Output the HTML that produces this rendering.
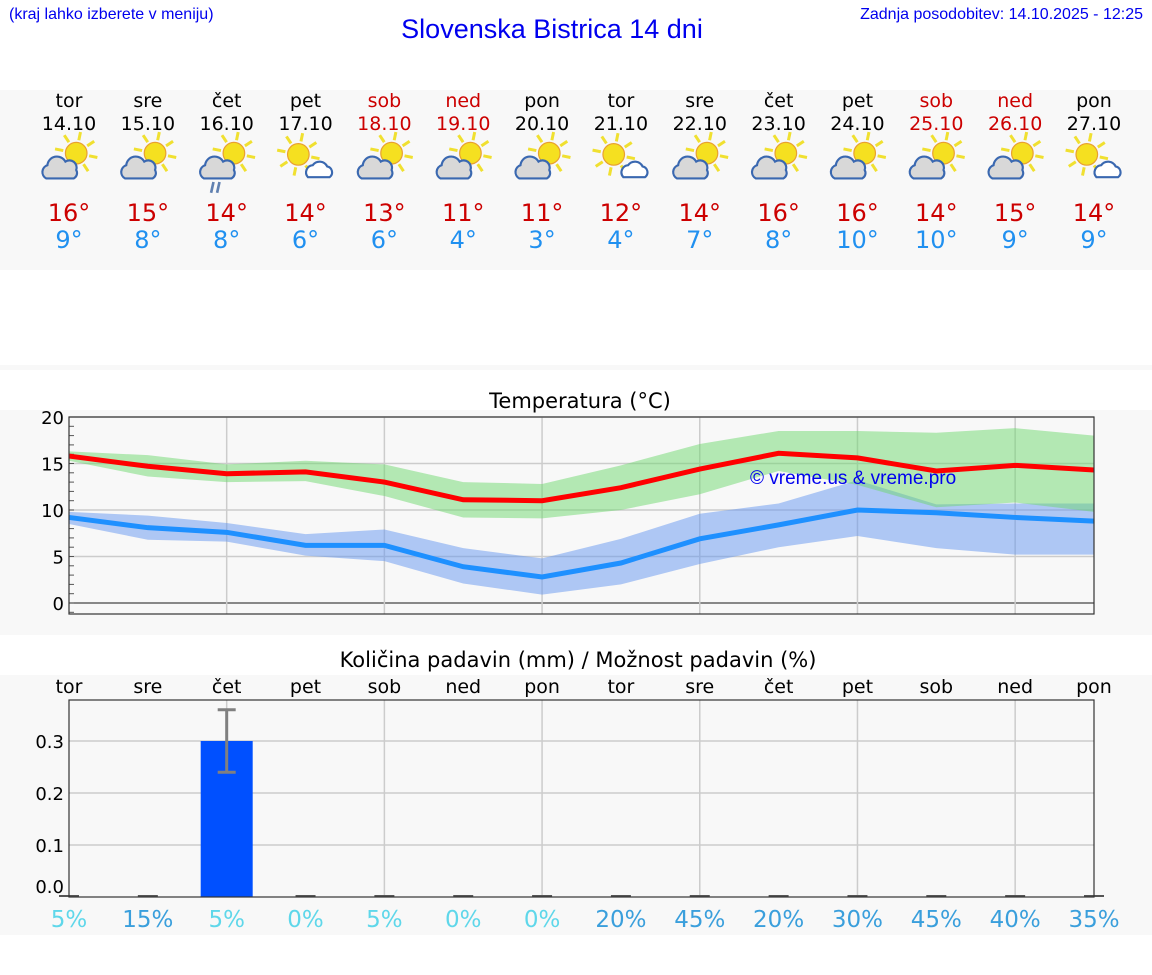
<!DOCTYPE html>
<html><head><meta charset="utf-8"><style>
body{margin:0;width:1152px;height:975px;background:#fff;font-family:"DejaVu Sans","Liberation Sans",sans-serif;position:relative;overflow:hidden}
.abs{position:absolute}
</style></head><body>
<div class="abs" style="left:9px;top:6px;font-size:16px;color:#0000ee;font-family:'Liberation Sans',sans-serif">(kraj lahko izberete v meniju)</div>
<div class="abs" style="left:0;width:1104px;top:14px;text-align:center;font-size:27px;color:#0000ee;font-family:'Liberation Sans',sans-serif">Slovenska Bistrica 14 dni</div>
<div class="abs" style="right:9px;top:6px;font-size:16px;color:#0000ee;font-family:'Liberation Sans',sans-serif">Zadnja posodobitev: 14.10.2025 - 12:25</div>
<div class="abs" style="left:0;top:90px;width:1152px;height:180px;background:#f8f8f8"></div>
<div class="abs" style="left:0;top:365px;width:1152px;height:5px;background:#f8f8f8"></div>
<div class="abs" style="left:0;top:410px;width:1152px;height:225px;background:#f8f8f8"></div>
<div class="abs" style="left:0;top:675px;width:1152px;height:260px;background:#f8f8f8"></div>
<svg id="svg" class="abs" style="left:0;top:0" width="1152" height="975"></svg>
<script>
const days=["tor","sre","čet","pet","sob","ned","pon","tor","sre","čet","pet","sob","ned","pon"];
const dates=["14.10","15.10","16.10","17.10","18.10","19.10","20.10","21.10","22.10","23.10","24.10","25.10","26.10","27.10"];
const weekend=[0,0,0,0,1,1,0,0,0,0,0,1,1,0];
const iconType=[0,0,1,2,0,0,0,2,0,0,0,0,0,2];
const hiLabel=[16,15,14,14,13,11,11,12,14,16,16,14,15,14];
const loLabel=[9,8,8,6,6,4,3,4,7,8,10,10,9,9];
const hi=[15.8,14.7,13.9,14.1,13.0,11.1,11.0,12.4,14.4,16.1,15.6,14.2,14.8,14.3];
const hiUp=[16.3,15.9,14.9,15.3,14.9,13.0,12.8,14.8,17.1,18.5,18.5,18.3,18.8,18.0];
const hiLo=[15.3,13.6,13.0,13.1,11.5,9.2,9.1,10.0,11.7,14.2,12.7,10.3,10.8,9.8];
const lo=[9.2,8.1,7.6,6.2,6.2,3.9,2.8,4.3,6.9,8.4,10.0,9.7,9.2,8.8];
const loUp=[9.8,9.4,8.6,7.4,7.9,5.9,4.8,6.9,9.6,10.7,13.2,10.6,10.7,10.7];
const loLo=[8.5,6.8,6.6,5.1,4.5,2.1,0.9,2.0,4.2,6.0,7.2,5.9,5.2,5.2];
const rain=[0,0,0.3,0,0,0,0,0,0,0,0,0,0,0];
const rainErrLo=[0,0,0.24,0,0,0,0,0,0,0,0,0,0,0];
const rainErrHi=[0,0,0.36,0,0,0,0,0,0,0,0,0,0,0];
const chance=[5,15,5,0,5,0,0,20,45,20,30,45,40,35];
const tTicks=[0,5,10,15,20];
const rTicks=[0.0,0.1,0.2,0.3];

const S=document.getElementById('svg'),NS="http://www.w3.org/2000/svg";
function el(t,a,p){const e=document.createElementNS(NS,t);for(const k in a)e.setAttribute(k,a[k]);(p||S).appendChild(e);return e}
function tx(s,a){const e=el('text',a);e.textContent=s;return e}
const X0=69,X1=1094,colX=i=>X0+i*(X1-X0)/13;
const tY=v=>603-v*9.3;
const rY=v=>897-v*520;
const font="DejaVu Sans, Liberation Sans, sans-serif";

days.forEach((d,i)=>{
 const x=colX(i),c=weekend[i]?"#cc0000":"#000";
 let e=tx(d,{x:x,y:107,'text-anchor':'middle','font-size':19,fill:c,'font-family':font});
 
 e=tx(dates[i],{x:x,y:130,'text-anchor':'middle','font-size':19,fill:c,'font-family':font});
 
 const g=el('g',{transform:`translate(${x},158) scale(1.2)`});
 
 const sunX=iconType[i]==2?-6:6,sunY=iconType[i]==2?-3:-4;
 for(let k=0;k<8;k++){const a=k*Math.PI/4+0.2;el('line',{x1:sunX+Math.cos(a)*11,y1:sunY+Math.sin(a)*11,x2:sunX+Math.cos(a)*18,y2:sunY+Math.sin(a)*18,stroke:'#f0e030','stroke-width':2.5},g)}
 el('circle',{cx:sunX,cy:sunY,r:9,fill:'#f5e020',stroke:'#e8a030','stroke-width':1},g);
 if(iconType[i]==2){
  el('path',{d:'M2 16 a6 6 0 0 1 4-10 a7 7 0 0 1 12 1 a5 5 0 0 1 2 9 z',fill:'#fff',stroke:'#3a68b0','stroke-width':1.8},g);
 }else{
  el('path',{d:'M-19 17 a6 6 0 0 1 1-11 a8 8 0 0 1 15-3 a6 6 0 0 1 9 7 a5 5 0 0 1-2 7 z',fill:'#d8d8d8',stroke:'#3a68b0','stroke-width':1.8},g);
  if(iconType[i]==1){el('line',{x1:-11,y1:20,x2:-13,y2:29,stroke:'#6080b0','stroke-width':2.2},g);el('line',{x1:-6,y1:20,x2:-8,y2:29,stroke:'#6080b0','stroke-width':2.2},g)}
 }
 e=tx(hiLabel[i]+"°",{x:x,y:221,'text-anchor':'middle','font-size':24,fill:'#cc0000','font-family':font});
 
 e=tx(loLabel[i]+"°",{x:x,y:248,'text-anchor':'middle','font-size':24,fill:'#2090f0','font-family':font});
 
});

let e=tx("Temperatura (°C)",{x:580,y:408,'text-anchor':'middle','font-size':21,fill:'#000','font-family':font});

el('rect',{x:X0,y:417,width:X1-X0,height:197,fill:'#f8f8f8'});
tTicks.forEach(v=>{el('line',{x1:X0,x2:X1,y1:tY(v),y2:tY(v),stroke:v==0?'#444':'#ccc','stroke-width':v==0?1.2:1.5});
 const t=tx(v,{x:64,y:tY(v)+7,'text-anchor':'end','font-size':18,fill:'#000','font-family':font});
 });
for(let v=-1;v<=20;v++){el('line',{x1:X0,x2:X0+5,y1:tY(v),y2:tY(v),stroke:'#555','stroke-width':1})}
for(let i=2;i<14;i+=2)el('line',{x1:colX(i),x2:colX(i),y1:417,y2:614,stroke:'#ccc','stroke-width':1.5});
function band(up,dn,fill,name){let d=up.map((v,i)=>(i?'L':'M')+colX(i)+' '+tY(v)).join(' ');for(let i=dn.length-1;i>=0;i--)d+=' L'+colX(i)+' '+tY(dn[i]);const p=el('path',{d:d+'Z',fill:fill});}
function line(vals,c,name){const p=el('polyline',{points:vals.map((v,i)=>colX(i)+','+tY(v)).join(' '),fill:'none',stroke:c,'stroke-width':5});}
band(loUp,loLo,'rgba(100,150,240,0.5)','low-temp-range');
band(hiUp,hiLo,'rgba(110,215,110,0.5)','high-temp-range');
line(lo,'#1e90ff','low-temp-line');
line(hi,'#ff0000','high-temp-line');
el('rect',{x:X0,y:417,width:X1-X0,height:197,fill:'none',stroke:'#333','stroke-width':1.2});
e=tx("© vreme.us & vreme.pro",{x:750,y:484,'font-size':19,fill:'#0000ee','font-family':'Liberation Sans, sans-serif'});


e=tx("Količina padavin (mm) / Možnost padavin (%)",{x:578,y:667,'text-anchor':'middle','font-size':21,fill:'#000','font-family':font});

days.forEach((d,i)=>{const t=tx(d,{x:colX(i),y:693,'text-anchor':'middle','font-size':19,fill:'#000','font-family':font});});
rTicks.forEach(v=>{if(v>0)el('line',{x1:X0,x2:X1,y1:rY(v),y2:rY(v),stroke:'#ccc','stroke-width':1.5});
 const t=tx(v.toFixed(1),{x:64,y:rY(v)+7-(v==0?11:0),'text-anchor':'end','font-size':18,fill:'#000','font-family':font});
 });
for(let i=2;i<14;i+=2)el('line',{x1:colX(i),x2:colX(i),y1:700,y2:897,stroke:'#ccc','stroke-width':1.5});
rain.forEach((v,i)=>{const x=colX(i);
 if(v>0){const b=el('rect',{x:x-26,y:rY(v),width:52,height:rY(0)-rY(v),fill:'#0050ff'});
  const g=el('g',{stroke:'#808080','stroke-width':3});
  el('line',{x1:x,x2:x,y1:rY(rainErrLo[i]),y2:rY(rainErrHi[i])},g);el('line',{x1:x-9,x2:x+9,y1:rY(rainErrLo[i]),y2:rY(rainErrLo[i])},g);el('line',{x1:x-9,x2:x+9,y1:rY(rainErrHi[i]),y2:rY(rainErrHi[i])},g);}
 else el('line',{x1:x-10,x2:x+10,y1:896,y2:896,stroke:'#555','stroke-width':2});
 const t=tx(chance[i]+"%",{x:x,y:927,'text-anchor':'middle','font-size':23,fill:chance[i]<=5?'#5fd7ea':'#3a9fdc','font-family':font});
 
});
el('rect',{x:X0,y:700,width:X1-X0,height:197,fill:'none',stroke:'#333','stroke-width':1.2});
</script>
</body></html>
